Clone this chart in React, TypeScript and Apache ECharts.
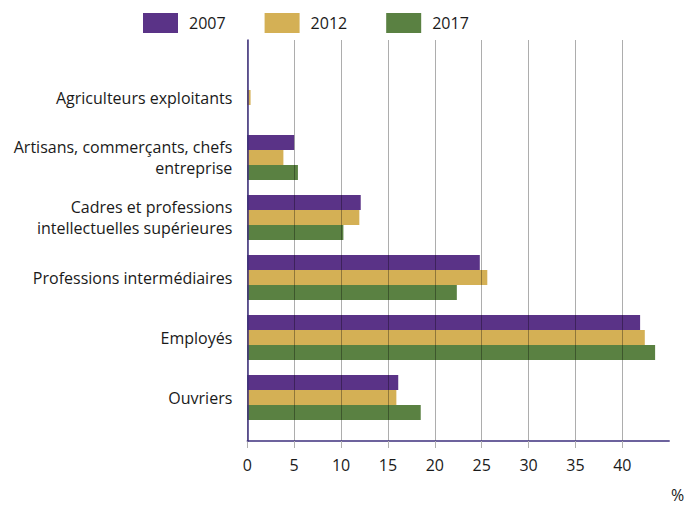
import React, { useEffect, useRef } from "react";
import * as echarts from "echarts";

const categories = [
  "Agriculteurs exploitants",
  "Artisans, commerçants, chefs\nentreprise",
  "Cadres et professions\nintellectuelles supérieures",
  "Professions intermédiaires",
  "Employés",
  "Ouvriers",
];
const years = ["2007", "2012", "2017"];
const values2007 = [0, 5.0, 12.1, 24.8, 41.9, 16.1];
const values2012 = [0.35, 3.85, 11.95, 25.6, 42.4, 15.9];
const values2017 = [0, 5.4, 10.25, 22.35, 43.5, 18.5];
const colors = ["#5a3387", "#d4b055", "#5a8142"];
const xMax = 45;

const FONT = "'Open Sans', 'Noto Sans', sans-serif";

export default function App() {
  const ref = useRef<HTMLDivElement>(null);
  useEffect(() => {
    document.body.style.margin = "0";
    const chart = echarts.init(ref.current!, null, { renderer: "svg" });
    const left = 247.3;
    const width = xMax * 9.375;
    chart.setOption({
      animation: false,
      textStyle: { fontFamily: FONT },
      color: colors,
      legend: {
        data: years,
        left: 143,
        top: 13,
        padding: 0,
        itemWidth: 35,
        itemHeight: 20,
        itemGap: 39,
        icon: "rect",
        textStyle: { fontSize: 16, color: "#1a1a1a", padding: [0, 0, 0, 6], fontFamily: FONT },
      },
      grid: [
        { left, width, top: 67.5, height: 360, containLabel: false },
        { left, width, top: 40, height: 401, containLabel: false },
      ],
      xAxis: [
        {
          gridIndex: 0,
          type: "value",
          min: 0,
          max: xMax,
          interval: 5,
          show: false,
        },
        {
          gridIndex: 1,
          type: "value",
          min: 0,
          max: xMax,
          interval: 5,
          z: 5,
          axisLine: { show: true, lineStyle: { color: "#3d2f7d", width: 1.5 } },
          axisTick: { show: true, length: 7, lineStyle: { color: "#b0b0b0", width: 1 } },
          splitLine: { show: true, showMaxLine: false, lineStyle: { color: "rgba(0,0,0,0.32)", width: 1 } },
          axisLabel: {
            showMaxLabel: false,
            margin: 16,
            fontSize: 16,
            color: "#1a1a1a",
            fontFamily: FONT,
          },
        },
      ],
      yAxis: [
        {
          gridIndex: 0,
          type: "category",
          data: categories,
          inverse: true,
          axisLine: { show: false },
          axisTick: { show: false },
          splitLine: { show: false },
          axisLabel: {
            margin: 15,
            fontSize: 16,
            lineHeight: 21,
            color: "#1a1a1a",
            align: "right",
            fontFamily: FONT,
          },
        },
        {
          gridIndex: 1,
          type: "value",
          min: 0,
          max: 1,
          z: 6,
          axisLine: { show: true, lineStyle: { color: "#3d2f7d", width: 1.5 } },
          axisTick: { show: false },
          axisLabel: { show: false },
          splitLine: { show: false },
        },
      ],
      series: [values2007, values2012, values2017].map((vals, i) => ({
        name: years[i],
        type: "bar",
        xAxisIndex: 0,
        yAxisIndex: 0,
        data: vals,
        barWidth: 15,
        barGap: "0%",
        itemStyle: { color: colors[i] },
        z: 2,
      })),
      graphic: [
        {
          type: "text",
          left: 671,
          top: 487,
          style: { text: "%", fontSize: 16, fill: "#1a1a1a", fontFamily: FONT },
        },
      ],
    });
    return () => chart.dispose();
  }, []);
  return <div ref={ref} style={{ width: 687, height: 505 }} />;
}
